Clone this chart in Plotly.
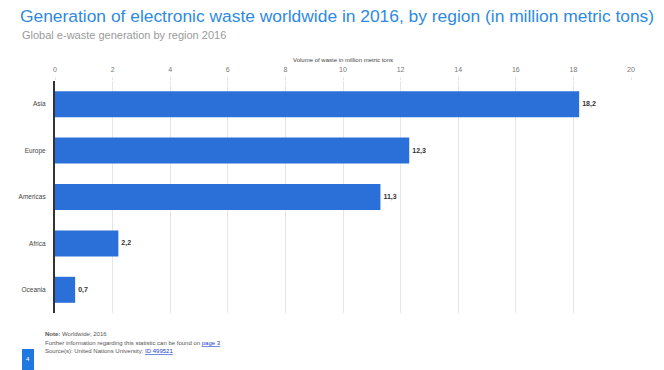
import plotly.graph_objects as go

regions = ["Asia", "Europe", "Americas", "Africa", "Oceania"]
waste_mt = [18.2, 12.3, 11.3, 2.2, 0.7]
x_ticks = [0, 2, 4, 6, 8, 10, 12, 14, 16, 18, 20]

W, H = 664, 370
L, R, T, B = 55, 33, 81, 57
pw, ph = W - L - R, H - T - B


def px(x):
    return (x - L) / pw


def py(y):
    return (H - B - y) / ph


labels = [f"<b>{v:.1f}</b>".replace(".", ",") for v in waste_mt]

fig = go.Figure(
    go.Bar(
        x=waste_mt,
        y=regions,
        orientation="h",
        marker=dict(color="#2b70d8", line=dict(width=0)),
        width=0.56,
        text=labels,
        textposition="outside",
        textfont=dict(size=7, color="#333333", family="Arial, Liberation Sans"),
        cliponaxis=False,
    )
)

fig.update_layout(
    width=W,
    height=H,
    margin=dict(l=L, r=R, t=T, b=B),
    paper_bgcolor="white",
    plot_bgcolor="white",
    showlegend=False,
    font=dict(family="Arial, Liberation Sans", color="#555555"),
    xaxis=dict(
        side="top",
        range=[0, 20],
        tickvals=x_ticks,
        tickfont=dict(size=7, color="#777777"),
        showgrid=True,
        gridcolor="#e6e6e6",
        gridwidth=1,
        zeroline=False,
        showline=False,
        ticks="outside",
        ticklen=3,
        tickcolor="#e6e6e6",
        ticklabelstandoff=2,
        title=dict(
            text="Volume of waste in million metric tons",
            font=dict(size=6, color="#444444"),
            standoff=3,
        ),
    ),
    yaxis=dict(
        categoryorder="array",
        categoryarray=regions[::-1],
        tickfont=dict(size=6.5, color="#444444"),
        showline=True,
        linecolor="#333333",
        linewidth=2,
        showgrid=False,
        ticks="",
        ticklabelstandoff=6,
    ),
    title=dict(
        text="Generation of electronic waste worldwide in 2016, by region (in million metric tons)",
        font=dict(size=17.4, color="#2e8ae0", family="Arial, Liberation Sans"),
        xref="container",
        yref="container",
        x=20 / W,
        y=1 - 16 / H,
        xanchor="left",
        yanchor="middle",
    ),
)

annotations = [
    dict(text="Global e-waste generation by region 2016", x=px(20), y=py(35),
         font=dict(size=11, color="#9a9a9a")),
    dict(text="<b>Note:</b> Worldwide; 2016", x=px(43), y=py(334),
         font=dict(size=6, color="#555555")),
    dict(text="Further information regarding this statistic can be found on "
              "<span style='color:#1a3fd0;text-decoration:underline'>page 3</span>",
         x=px(43), y=py(342.5), font=dict(size=6, color="#555555")),
    dict(text="Source(s): United Nations University; "
              "<span style='color:#1a3fd0;text-decoration:underline'>ID 499521</span>",
         x=px(43), y=py(351), font=dict(size=6, color="#555555")),
    dict(text="4", x=px(28), y=py(359), xanchor="center",
         font=dict(size=6, color="white")),
]
for a in annotations:
    a.setdefault("xanchor", "left")
    fig.add_annotation(xref="paper", yref="paper", yanchor="middle",
                       showarrow=False, **a)

# page marker square in the lower-left corner
fig.add_shape(type="rect", xref="paper", yref="paper",
              x0=px(22), x1=px(34), y0=py(349), y1=py(372),
              fillcolor="#1f78e0", line=dict(width=0), layer="below")

fig.write_html("out.html")
